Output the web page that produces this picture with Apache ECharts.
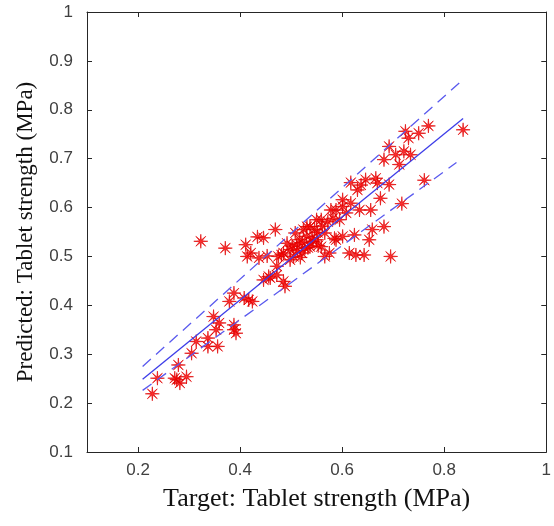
<!DOCTYPE html>
<html>
<head>
<meta charset="utf-8">
<title></title>
<style>
html, body { margin: 0; padding: 0; background: #fff; }
#main { width: 554px; height: 526px; }
</style>
</head>
<body>
<div id="main"></div>
<script src="https://cdn.jsdelivr.net/npm/echarts@6/dist/echarts.min.js"></script>
<script>
// target vs predicted tablet strength (MPa)
var target = [
  0.228, 0.238, 0.279, 0.276, 0.282, 0.295, 0.272, 0.305, 0.314, 0.337,
  0.337, 0.356, 0.348, 0.359, 0.353, 0.388, 0.392, 0.388, 0.379, 0.388,
  0.408, 0.424, 0.417, 0.323, 0.371, 0.411, 0.434, 0.446, 0.469, 0.421,
  0.437, 0.453, 0.446, 0.459, 0.472, 0.485, 0.488, 0.475, 0.485, 0.498,
  0.508, 0.517, 0.530, 0.537, 0.505, 0.521, 0.550, 0.559, 0.546, 0.566,
  0.575, 0.588, 0.588, 0.601, 0.608, 0.617, 0.634, 0.656, 0.578, 0.585,
  0.601, 0.624, 0.614, 0.627, 0.643, 0.566, 0.659, 0.653, 0.682, 0.695,
  0.617, 0.630, 0.646, 0.666, 0.675, 0.692, 0.717, 0.761, 0.682, 0.692,
  0.705, 0.712, 0.721, 0.730, 0.734, 0.750, 0.769, 0.837, 0.724, 0.492,
  0.511, 0.527, 0.543, 0.559, 0.498, 0.472, 0.456, 0.414, 0.524, 0.537,
  0.637, 0.669, 0.601, 0.582, 0.595, 0.550, 0.502, 0.512, 0.522, 0.533,
  0.541, 0.552, 0.518, 0.561, 0.572, 0.481, 0.531, 0.553
];
var predicted = [
  0.219, 0.251, 0.278, 0.248, 0.241, 0.254, 0.251, 0.302, 0.326, 0.333,
  0.316, 0.316, 0.377, 0.364, 0.350, 0.360, 0.343, 0.350, 0.408, 0.425,
  0.415, 0.408, 0.411, 0.531, 0.517, 0.524, 0.540, 0.538, 0.555, 0.507,
  0.497, 0.501, 0.452, 0.456, 0.462, 0.449, 0.439, 0.500, 0.507, 0.514,
  0.548, 0.534, 0.541, 0.520, 0.500, 0.507, 0.534, 0.575, 0.555, 0.548,
  0.507, 0.534, 0.595, 0.602, 0.589, 0.609, 0.595, 0.595, 0.595, 0.537,
  0.541, 0.544, 0.507, 0.503, 0.503, 0.500, 0.555, 0.534, 0.561, 0.500,
  0.651, 0.636, 0.657, 0.660, 0.619, 0.647, 0.608, 0.656, 0.698, 0.725,
  0.708, 0.688, 0.715, 0.742, 0.708, 0.752, 0.767, 0.759, 0.756, 0.527,
  0.524, 0.517, 0.531, 0.520, 0.493, 0.480, 0.459, 0.500, 0.555, 0.561,
  0.646, 0.650, 0.616, 0.578, 0.575, 0.575, 0.521, 0.512, 0.528, 0.518,
  0.538, 0.549, 0.498, 0.562, 0.571, 0.503, 0.561, 0.522
];

// fit line and the two dashed bounds, end points [x, y]
var fitLine = [[0.209, 0.249], [0.837, 0.782]];
var upperLine = [[0.209, 0.275], [0.837, 0.862]];
var lowerLine = [[0.209, 0.226], [0.824, 0.692]];

var xTicks = [0.2, 0.4, 0.6, 0.8, 1];
var yTicks = [0.1, 0.2, 0.3, 0.4, 0.5, 0.6, 0.7, 0.8, 0.9, 1];

var points = [];
for (var i = 0; i < target.length; i++) {
  points.push([target[i], predicted[i]]);
}

// 8-armed asterisk marker
var star = 'path://';
for (var k = 0; k < 16; k++) {
  var a = k * Math.PI / 8;
  var r = (k % 2 === 0) ? 10 : 1.9;
  star += (k === 0 ? 'M' : 'L') + (10 + r * Math.sin(a)).toFixed(2) + ' ' + (10 - r * Math.cos(a)).toFixed(2) + ' ';
}
star += 'Z';

var axisColor = '#262626';
var labelFont = { color: '#404040', fontSize: 17, fontFamily: 'Liberation Sans' };
var tickStyle = { inside: true, length: 5, lineStyle: { color: axisColor } };

var option = {
  animation: false,
  backgroundColor: '#fff',
  grid: { left: 87, right: 2, top: 12, bottom: 74 },
  xAxis: [{
    type: 'value', min: 0.1, max: 1,
    name: 'Target: Tablet strength (MPa)',
    nameLocation: 'middle', nameGap: 34,
    nameTextStyle: { color: '#111', fontSize: 26, fontFamily: 'Liberation Serif' },
    axisLine: { lineStyle: { color: axisColor } },
    axisTick: Object.assign({ customValues: xTicks }, tickStyle),
    axisLabel: Object.assign({ margin: 10, customValues: xTicks,
      formatter: function (v) { return String(Math.round(v * 10) / 10); } }, labelFont),
    splitLine: { show: false }
  }, {
    type: 'value', min: 0.1, max: 1, position: 'top',
    axisLine: { show: true, onZero: false, lineStyle: { color: axisColor } },
    axisTick: Object.assign({ customValues: xTicks }, tickStyle),
    axisLabel: { show: false },
    splitLine: { show: false }
  }],
  yAxis: [{
    type: 'value', min: 0.1, max: 1,
    name: 'Predicted: Tablet strength (MPa)',
    nameLocation: 'middle', nameGap: 50,
    nameTextStyle: { color: '#111', fontSize: 23, fontFamily: 'Liberation Serif' },
    axisLine: { show: true, lineStyle: { color: axisColor } },
    axisTick: Object.assign({ show: true, customValues: yTicks }, tickStyle),
    axisLabel: Object.assign({ margin: 14, customValues: yTicks,
      formatter: function (v) { return String(Math.round(v * 10) / 10); } }, labelFont),
    splitLine: { show: false }
  }, {
    type: 'value', min: 0.1, max: 1, position: 'right',
    axisLine: { show: true, onZero: false, lineStyle: { color: axisColor } },
    axisTick: Object.assign({ show: true, customValues: yTicks }, tickStyle),
    axisLabel: { show: false },
    splitLine: { show: false }
  }],
  series: [{
    type: 'scatter',
    data: points,
    symbol: star,
    symbolSize: 14,
    itemStyle: { color: '#ff0000', borderColor: '#e00000', borderWidth: 0.8 },
    z: 2
  }, {
    type: 'line', data: fitLine, showSymbol: false,
    lineStyle: { color: '#3d3de8', width: 1.3 }, z: 3
  }, {
    type: 'line', data: upperLine, showSymbol: false,
    lineStyle: { color: '#5a5aee', width: 1.3, type: [11, 7] }, z: 3
  }, {
    type: 'line', data: lowerLine, showSymbol: false,
    lineStyle: { color: '#5a5aee', width: 1.3, type: [11, 7] }, z: 3
  }]
};

var myChart = echarts.init(document.getElementById('main'));
myChart.setOption(option);
</script>
</body>
</html>
